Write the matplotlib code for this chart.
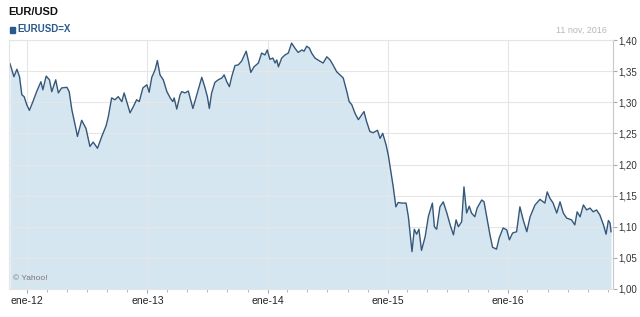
import matplotlib
matplotlib.use('Agg')
import matplotlib.pyplot as plt
import matplotlib.dates as mdates
from matplotlib.patches import Rectangle
import pandas as pd

plt.rcParams['font.family'] = ['Liberation Sans', 'DejaVu Sans']

# EUR/USD close
dates = [
    '2011-11-10', '2011-11-22', '2011-12-01', '2011-12-09', '2011-12-16', '2011-12-23',
    '2011-12-31', '2012-01-08', '2012-01-18', '2012-01-30', '2012-02-12', '2012-02-18',
    '2012-02-28', '2012-03-09', '2012-03-16', '2012-03-28', '2012-04-05', '2012-04-15',
    '2012-05-01', '2012-05-08', '2012-05-16', '2012-05-29', '2012-06-02', '2012-06-15',
    '2012-06-28', '2012-07-10', '2012-07-20', '2012-08-02', '2012-08-15', '2012-08-28',
    '2012-09-04', '2012-09-14', '2012-09-24', '2012-10-04', '2012-10-15', '2012-10-22',
    '2012-10-30', '2012-11-09', '2012-11-19', '2012-11-29', '2012-12-07', '2012-12-18',
    '2012-12-30', '2013-01-06', '2013-01-14', '2013-01-24', '2013-01-31', '2013-02-08',
    '2013-02-18', '2013-03-01', '2013-03-11', '2013-03-19', '2013-03-23', '2013-03-31',
    '2013-04-10', '2013-04-15', '2013-04-25', '2013-05-05', '2013-05-19', '2013-05-31',
    '2013-06-15', '2013-06-25', '2013-07-02', '2013-07-08', '2013-07-15', '2013-07-25',
    '2013-08-04', '2013-08-15', '2013-08-22', '2013-08-30', '2013-09-07', '2013-09-14',
    '2013-09-24', '2013-10-04', '2013-10-14', '2013-10-28', '2013-11-04', '2013-11-11',
    '2013-11-21', '2013-12-04', '2013-12-14', '2013-12-24', '2013-12-31', '2014-01-08',
    '2014-01-17', '2014-01-24', '2014-01-29', '2014-02-03', '2014-02-13', '2014-02-23',
    '2014-03-05', '2014-03-15', '2014-03-25', '2014-04-04', '2014-04-15', '2014-04-22',
    '2014-04-30', '2014-05-08', '2014-05-15', '2014-05-25', '2014-06-09', '2014-06-19',
    '2014-06-30', '2014-07-10', '2014-07-20', '2014-07-30', '2014-08-09', '2014-08-19',
    '2014-08-30', '2014-09-06', '2014-09-14', '2014-09-24', '2014-10-04', '2014-10-12',
    '2014-10-21', '2014-10-29', '2014-11-08', '2014-11-18', '2014-12-01', '2014-12-09',
    '2014-12-17', '2014-12-27', '2015-01-03', '2015-01-10', '2015-01-18', '2015-01-26',
    '2015-02-02', '2015-02-13', '2015-02-26', '2015-03-05', '2015-03-10', '2015-03-16',
    '2015-03-23', '2015-03-30', '2015-04-06', '2015-04-14', '2015-04-25', '2015-05-05',
    '2015-05-17', '2015-05-23', '2015-05-30', '2015-06-09', '2015-06-19', '2015-06-30',
    '2015-07-10', '2015-07-20', '2015-07-28', '2015-08-04', '2015-08-14', '2015-08-21',
    '2015-08-29', '2015-09-06', '2015-09-13', '2015-09-23', '2015-09-30', '2015-10-14',
    '2015-10-21', '2015-10-29', '2015-11-08', '2015-11-16', '2015-11-28', '2015-12-06',
    '2015-12-18', '2015-12-29', '2016-01-06', '2016-01-16', '2016-01-28', '2016-02-07',
    '2016-02-17', '2016-02-28', '2016-03-09', '2016-03-24', '2016-04-08', '2016-04-23',
    '2016-04-30', '2016-05-08', '2016-05-18', '2016-05-29', '2016-06-08', '2016-06-18',
    '2016-06-28', '2016-07-13', '2016-07-23', '2016-07-30', '2016-08-08', '2016-08-18',
    '2016-08-28', '2016-09-07', '2016-09-17', '2016-09-27', '2016-10-07', '2016-10-18',
    '2016-10-26', '2016-11-02', '2016-11-07', '2016-11-10',
]
rates = [
    1.362, 1.341, 1.353, 1.341, 1.312, 1.309,
    1.296, 1.287, 1.300, 1.317, 1.333, 1.320,
    1.342, 1.336, 1.317, 1.336, 1.315, 1.323,
    1.324, 1.317, 1.288, 1.256, 1.245, 1.271,
    1.258, 1.229, 1.236, 1.226, 1.245, 1.262,
    1.277, 1.307, 1.304, 1.309, 1.301, 1.315,
    1.301, 1.283, 1.293, 1.304, 1.301, 1.323,
    1.328, 1.316, 1.340, 1.352, 1.367, 1.344,
    1.336, 1.317, 1.307, 1.301, 1.307, 1.289,
    1.312, 1.317, 1.315, 1.318, 1.290, 1.312,
    1.340, 1.323, 1.309, 1.290, 1.315, 1.332,
    1.336, 1.339, 1.344, 1.333, 1.325, 1.341,
    1.359, 1.360, 1.366, 1.382, 1.366, 1.348,
    1.357, 1.363, 1.379, 1.376, 1.384, 1.369,
    1.371, 1.363, 1.368, 1.357, 1.371, 1.376,
    1.379, 1.395, 1.387, 1.380, 1.384, 1.382,
    1.390, 1.387, 1.379, 1.371, 1.366, 1.363,
    1.373, 1.368, 1.359, 1.349, 1.344, 1.339,
    1.317, 1.301, 1.296, 1.282, 1.272, 1.278,
    1.285, 1.269, 1.253, 1.251, 1.255, 1.242,
    1.250, 1.232, 1.215, 1.191, 1.164, 1.132,
    1.139, 1.138, 1.138, 1.116, 1.090, 1.060,
    1.096, 1.088, 1.096, 1.062, 1.084, 1.117,
    1.138, 1.100, 1.096, 1.132, 1.140, 1.122,
    1.103, 1.087, 1.111, 1.100, 1.108, 1.164,
    1.122, 1.133, 1.122, 1.116, 1.130, 1.143,
    1.140, 1.116, 1.087, 1.067, 1.064, 1.082,
    1.098, 1.095, 1.079, 1.090, 1.092, 1.132,
    1.111, 1.092, 1.116, 1.135, 1.144, 1.138,
    1.156, 1.146, 1.138, 1.122, 1.140, 1.122,
    1.114, 1.111, 1.103, 1.124, 1.116, 1.135,
    1.127, 1.130, 1.124, 1.127, 1.119, 1.103,
    1.088, 1.110, 1.106, 1.092,
]

x_ticks = ['2012-01-01', '2013-01-01', '2014-01-01', '2015-01-01', '2016-01-01']
x_labels = ['ene-12', 'ene-13', 'ene-14', 'ene-15', 'ene-16']
y_ticks = [1.00, 1.05, 1.10, 1.15, 1.20, 1.25, 1.30, 1.35, 1.40]
y_labels = ['1,00', '1,05', '1,10', '1,15', '1,20', '1,25', '1,30', '1,35', '1,40']

x = pd.to_datetime(dates)

fig = plt.figure(figsize=(6.4, 3.17), dpi=100)
ax = fig.add_axes([9 / 640, 28 / 317, 604 / 640, 249 / 317])

ax.fill_between(x, rates, 1.0, color='#d6e6f1', lw=0)
ax.plot(x, rates, color='#35577a', lw=1.0)

ax.set_xlim(pd.Timestamp('2011-11-07'), pd.Timestamp('2016-11-16'))
ax.set_ylim(1.0, 1.40)

ax.set_xticks(pd.to_datetime(x_ticks))
ax.set_xticklabels(x_labels)
ax.xaxis.set_minor_locator(mdates.MonthLocator(bymonth=[3, 5, 7, 9, 11]))
ax.yaxis.tick_right()
ax.set_yticks(y_ticks)
ax.set_yticklabels(y_labels)

ax.tick_params(axis='x', which='major', length=3, color='#aaaaaa', labelsize=7.5,
               labelcolor='#222222', pad=2)
ax.tick_params(axis='x', which='minor', length=2, color='#aaaaaa')
ax.tick_params(axis='y', length=3, color='#aaaaaa', labelsize=7, labelcolor='#333333', pad=1)

ax.set_axisbelow('line')
ax.grid(axis='y', color='#e6e6e6', lw=0.8)
ax.grid(axis='x', which='major', color='#e2e6ea', lw=0.8)

for side in ['left', 'top', 'bottom']:
    ax.spines[side].set_color('#e4e4e4')
    ax.spines[side].set_linewidth(0.8)
ax.spines['right'].set_color('#c8c8c8')
ax.spines['right'].set_linewidth(0.8)

fig.text(8 / 640, 1 - 12 / 317, 'EUR/USD', fontsize=8, fontweight='bold',
         color='#111111', va='center')
fig.patches.append(Rectangle((10 / 640, 1 - 33 / 317), 5 / 640, 6 / 317,
                             transform=fig.transFigure, color='#2a5a8c'))
fig.text(17 / 640, 1 - 29 / 317, 'EURUSD=X', fontsize=7, fontweight='bold',
         color='#2a5a8c', va='center')
fig.text(607 / 640, 1 - 30 / 317, '11 nov, 2016', fontsize=6.5, color='#b8b8b8',
         ha='right', va='center')
ax.text(0.006, 0.03, '\u00a9 Yahoo!', transform=ax.transAxes, fontsize=6,
        color='#777777', va='bottom')

fig.savefig('out.png', dpi=100)
